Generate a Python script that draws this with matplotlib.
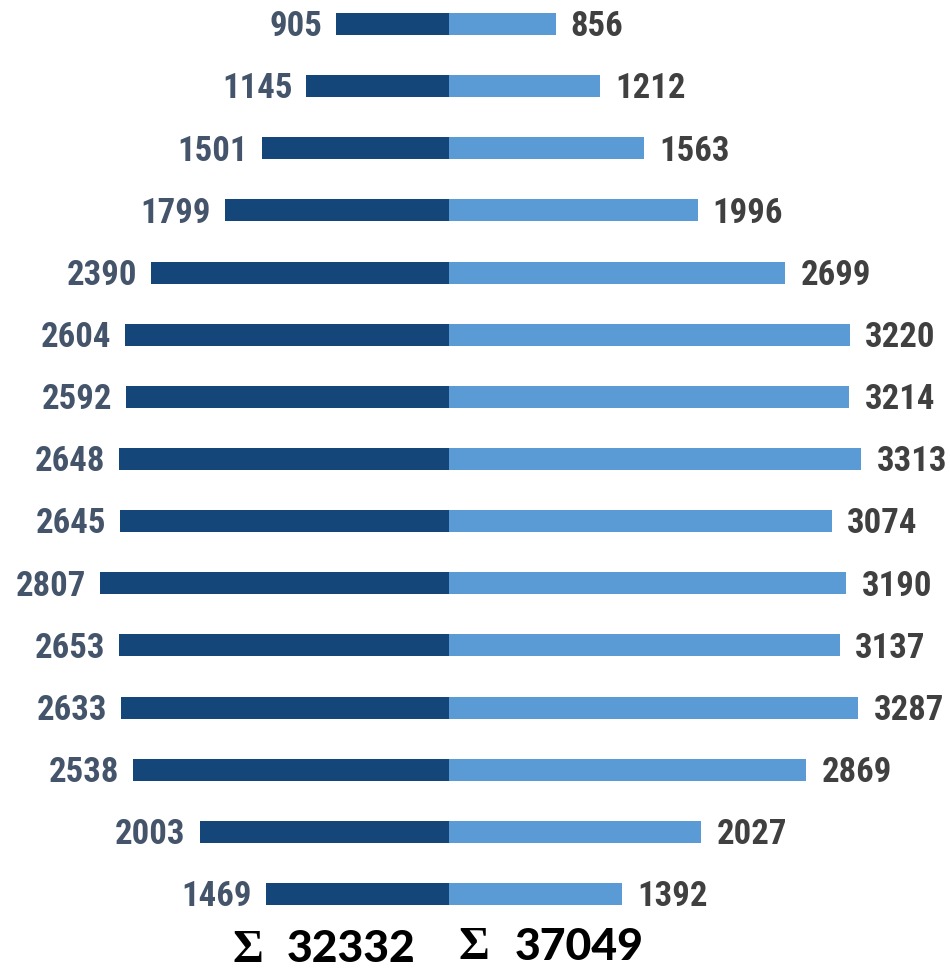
import matplotlib
matplotlib.use("Agg")
import matplotlib.pyplot as plt

left_values = [905, 1145, 1501, 1799, 2390, 2604, 2592, 2648, 2645, 2807, 2653, 2633, 2538, 2003, 1469]
right_values = [856, 1212, 1563, 1996, 2699, 3220, 3214, 3313, 3074, 3190, 3137, 3287, 2869, 2027, 1392]
sigma = "Σ"
left_total = "32332"
right_total = "37049"

dark = "#15467A"
light = "#5B9BD5"
left_lbl = "#44546A"
right_lbl = "#404040"

fig = plt.figure(figsize=(9.5, 9.72), dpi=100)
ax = fig.add_axes([0, 0, 1, 1])
ax.set_xlim(-449 / 0.1245, 501 / 0.1245)
ax.set_ylim((972 - 24) / 62.14, -24 / 62.14)
ax.axis("off")

ys = list(range(len(left_values)))
ax.barh(ys, [-v for v in left_values], height=0.355, color=dark)
ax.barh(ys, right_values, height=0.355, color=light)

fam = ["Roboto Condensed", "Liberation Sans Narrow", "DejaVu Sans"]
fs = 25
dy = -fs * 0.711 / 2
for y, v in zip(ys, left_values):
    ax.annotate(str(v), (-v, y), xytext=(-10, dy), textcoords="offset points",
                ha="right", va="baseline", fontsize=fs, fontweight="bold",
                color=left_lbl, family=fam)
for y, v in zip(ys, right_values):
    ax.annotate(str(v), (v, y), xytext=(11, dy), textcoords="offset points",
                ha="left", va="baseline", fontsize=fs, fontweight="bold",
                color=right_lbl, family=fam)

sfam = ["Liberation Serif", "DejaVu Serif"]
dfam = ["Lato", "DejaVu Sans"]
fig.text(232 / 950, 1 - 962 / 972, sigma, ha="left", va="baseline",
         fontsize=34, fontweight="bold", color="black", family=sfam)
fig.text(287 / 950, 1 - 962 / 972, left_total, ha="left", va="baseline",
         fontsize=32, fontweight=900, color="black", family=dfam)
fig.text(458 / 950, 1 - 959 / 972, sigma, ha="left", va="baseline",
         fontsize=34, fontweight="bold", color="black", family=sfam)
fig.text(515 / 950, 1 - 960 / 972, right_total, ha="left", va="baseline",
         fontsize=32, fontweight=900, color="black", family=dfam)

fig.savefig("out.png", dpi=100)
